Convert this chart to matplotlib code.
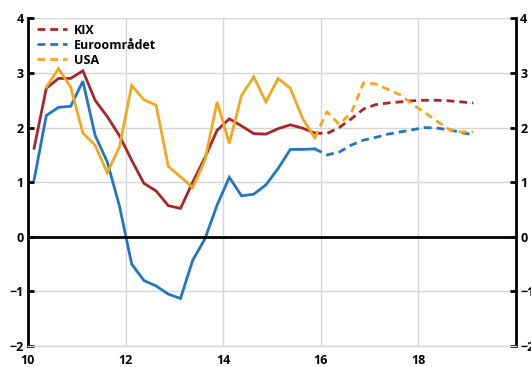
import numpy as np
import matplotlib
matplotlib.use("Agg")
import matplotlib.pyplot as plt
from matplotlib.lines import Line2D

plt.rcParams['font.family'] = ['Open Sans', 'DejaVu Sans']

# Quarterly data, first quarter 2010 Q1 (plotted at mid-quarter)
start_year = 10
series_names = ["KIX", "Euroområdet", "USA"]

kix_actual = [1.62, 2.72, 2.90, 2.90, 3.04, 2.50, 2.20, 1.85, 1.40, 0.98, 0.84, 0.57,
              0.52, 1.00, 1.45, 1.95, 2.16, 2.03, 1.89, 1.88, 1.98, 2.05, 1.99, 1.90]
euro_actual = [1.04, 2.22, 2.37, 2.39, 2.85, 1.86, 1.37, 0.56, -0.50, -0.80, -0.90, -1.05,
               -1.13, -0.43, -0.04, 0.58, 1.09, 0.75, 0.78, 0.95, 1.25, 1.60, 1.60, 1.61]
usa_actual = [None, 2.74, 3.08, 2.74, 1.90, 1.68, 1.17, 1.65, 2.77, 2.51, 2.41, 1.29,
              1.10, 0.90, 1.40, 2.47, 1.71, 2.59, 2.93, 2.47, 2.90, 2.72, 2.17, 1.81]

kix_forecast = [1.89, 2.00, 2.16, 2.34, 2.42, 2.45, 2.47, 2.49, 2.50, 2.50, 2.49, 2.47, 2.45]
euro_forecast = [1.50, 1.55, 1.68, 1.77, 1.82, 1.88, 1.92, 1.96, 2.00, 1.99, 1.96, 1.91, 1.87]
usa_forecast = [2.29, 2.06, 2.27, 2.82, 2.80, 2.70, 2.60, 2.43, 2.28, 2.12, 1.97, 1.92, 1.92]

colors = ["#a8262b", "#1f77c4", "#f0a91e"]

x_ticks = [10, 12, 14, 16, 18]
y_ticks = [-2, -1, 0, 1, 2, 3, 4]


def qx(n, offset=0):
    return start_year + 0.125 + 0.25 * (np.arange(n) + offset)


fig = plt.figure(figsize=(5.31, 3.67), dpi=100)
ax = fig.add_axes([0.0527, 0.0572, 0.9191, 0.8928])

dash = (0, (2.8, 1.8))
lw = 2.0
n_act = len(kix_actual)
for actual, fc, col in zip([kix_actual, euro_actual, usa_actual],
                           [kix_forecast, euro_forecast, usa_forecast], colors):
    xa = qx(n_act)
    ya = np.array([np.nan if v is None else v for v in actual], dtype=float)
    ax.plot(xa, ya, color=col, lw=lw, solid_joinstyle='miter', zorder=3)
    xf = qx(len(fc) + 1, offset=n_act - 1)
    yf = np.concatenate([[ya[-1]], fc])
    ax.plot(xf, yf, color=col, lw=lw, linestyle=dash, zorder=3)

ax.axhline(0, color='black', lw=2.0, zorder=4)

ax.set_xlim(10, 20)
ax.set_ylim(-2, 4)
ax.set_xticks(x_ticks)
ax.set_yticks(y_ticks)
ax.grid(True, color='#d6d6d6', lw=1.0, zorder=0)
ax.set_axisbelow(True)

for s in ['left', 'right']:
    ax.spines[s].set_color('black')
    ax.spines[s].set_linewidth(2.0)
ax.spines['top'].set_visible(False)
ax.spines['bottom'].set_color('#d6d6d6')
ax.spines['bottom'].set_linewidth(1.0)

ax.tick_params(axis='y', which='both', direction='in', length=4, width=2,
               left=True, right=True, labelleft=True, labelright=True,
               labelsize=9, pad=3)
ax.tick_params(axis='x', length=0, labelsize=9, pad=6)
for t in ax.yaxis.get_major_ticks():
    t.label2.set_fontweight('bold')
    t.label1.set_fontweight('bold')
for lab in ax.get_xticklabels():
    lab.set_fontweight('bold')

handles = [Line2D([0], [0], color=c, lw=lw, linestyle=dash) for c in colors]
leg = ax.legend(handles, series_names, loc='upper left', bbox_to_anchor=(0.0, 1.01),
                frameon=False, handlelength=2.4, handletextpad=0.6, labelspacing=0.15,
                borderaxespad=0.3, prop={'size': 9, 'weight': 'bold'})

fig.savefig("out.png", dpi=100)
